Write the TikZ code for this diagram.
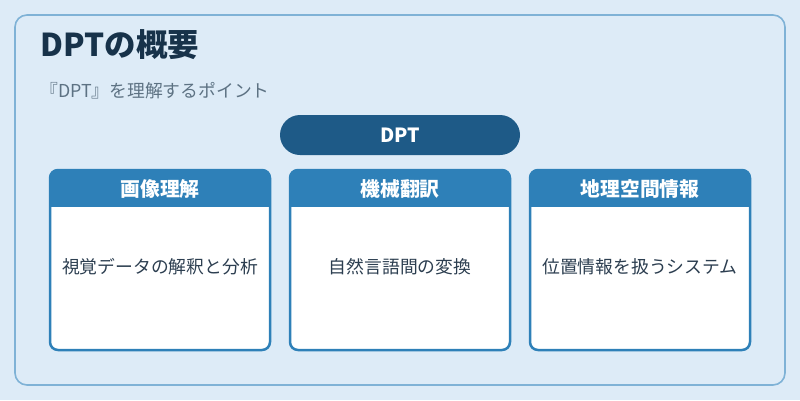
\documentclass[tikz,border=0pt]{standalone}
\usepackage{fontspec}
\setmainfont{Noto Sans CJK JP}
\definecolor{bgc}{HTML}{DDEBF7}
\definecolor{framec}{HTML}{7FB2D6}
\definecolor{hdrc}{HTML}{2E80B8}
\definecolor{pillc}{HTML}{1E5A87}
\definecolor{titlec}{HTML}{17324A}
\definecolor{subc}{HTML}{5D7283}
\definecolor{bodyc}{HTML}{2C3E50}
\tikzset{
  frame/.style={draw=framec, line width=1.6pt, fill=bgc, rounded corners=12pt},
  pill/.style={fill=pillc, rounded corners=20pt, minimum width=240pt, minimum height=40pt, inner sep=0pt,
    text=white, font=\fontsize{19.5}{22}\selectfont\bfseries},
  card/.style={draw=hdrc, line width=2.5pt, fill=white, rounded corners=8pt,
    minimum width=220pt, minimum height=180pt, inner sep=0pt,
    path picture={\fill[hdrc, sharp corners] (path picture bounding box.north west) rectangle ([yshift=-37pt]path picture bounding box.north east);}},
  hdrtext/.style={text=white, font=\fontsize{19.8}{23}\selectfont\bfseries, inner sep=0pt},
  bodytext/.style={text=bodyc, font=\fontsize{17.8}{21}\selectfont, inner sep=0pt},
  titletext/.style={text=titlec, font=\fontsize{31.5}{36}\selectfont\bfseries, inner sep=0pt, anchor=base west},
  subtext/.style={text=subc, font=\fontsize{17.8}{21}\selectfont, inner sep=0pt, anchor=base west},
}
\begin{document}
\begin{tikzpicture}[x=1pt,y=-1pt]
\useasboundingbox (0,0) rectangle (800,400);
\fill[bgc] (0,0) rectangle (800,400);
\draw[frame] (15,15) rectangle (785,385);
\node[titletext] (title) at (40,56) {DPTの概要};
\node[subtext] (sub) at (40,97) {『DPT』を理解するポイント};
\node[pill] (dpt) at (400,135) {DPT};
\node[card] (c1) at (160,260) {};
\node[card] (c2) at (400,260) {};
\node[card] (c3) at (640,260) {};
\node[hdrtext] (h1) at (160,189) {画像理解};
\node[hdrtext] (h2) at (400,189) {機械翻訳};
\node[hdrtext] (h3) at (640,189) {地理空間情報};
\node[bodytext] (b1) at (160,267) {視覚データの解釈と分析};
\node[bodytext] (b2) at (400,267) {自然言語間の変換};
\node[bodytext] (b3) at (640,267) {位置情報を扱うシステム};
\end{tikzpicture}
\end{document}
